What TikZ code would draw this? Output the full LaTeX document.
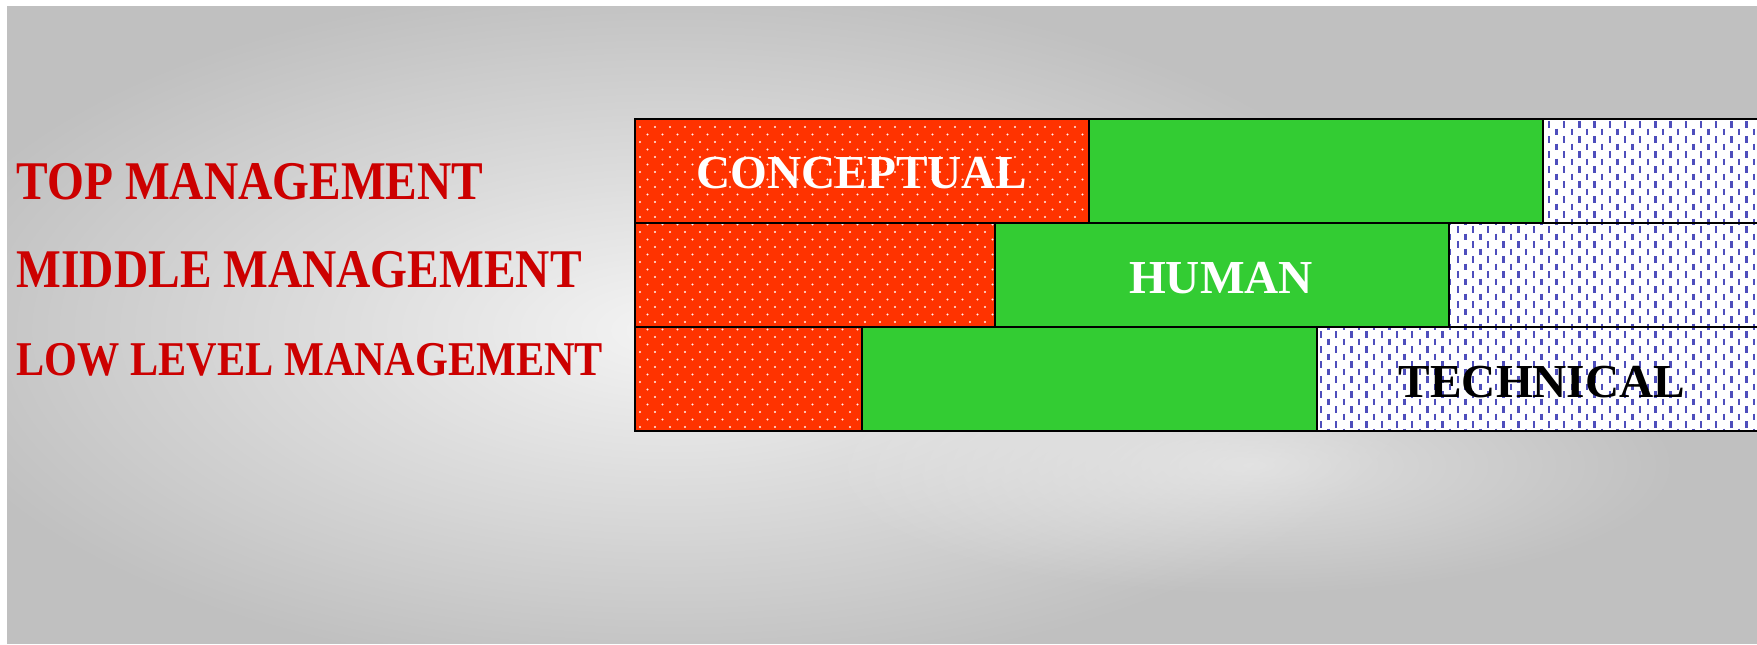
\documentclass[tikz,border=0pt]{standalone}
\usepackage{fontspec}
\usetikzlibrary{fadings}
\setmainfont{Liberation Serif}
\newfontfamily\narrowserif[FakeStretch=0.87]{Liberation Serif}
\definecolor{bggray}{HTML}{C0C0C0}
\definecolor{bglight}{HTML}{F4F4F4}
\definecolor{levelred}{HTML}{CC0000}
\definecolor{conceptred}{HTML}{FF3300}
\definecolor{humangreen}{HTML}{33CC33}
\definecolor{techblue}{HTML}{4E4EBC}
\tikzfading[name=glowfade, inner color=transparent!0, outer color=transparent!100]

\begin{document}
\begin{tikzpicture}[x=0.01cm, y=-0.01cm,
    level/.style={font=\narrowserif\bfseries\fontsize{15.5}{18}\selectfont, text=levelred, anchor=base west, inner sep=0pt},
    skill/.style={font=\bfseries\fontsize{13.45}{15}\selectfont, anchor=base, inner sep=0pt},
    concept/.style={fill=conceptred},
    human/.style={fill=humangreen},
    tech/.style={fill=white},
    conceptdot/.style={fill=white!92!conceptred},
    techdash/.style={draw=techblue, line width=0.025cm},
    boxline/.style={draw=black, line width=0.022cm},
    glow/.style={fill=bglight, path fading=glowfade},
]
\clip (0,0) rectangle (1757,644);

% Background with a soft glow
\fill[white] (0,0) rectangle (1757,644);
\fill[bggray] (7,6) rectangle (1757,644);
\begin{scope}
\clip (7,6) rectangle (1757,644);
\fill[glow] (670,330) ellipse [x radius=770, y radius=350];
\fill[glow, fill opacity=0.6] (1250,465) ellipse [x radius=430, y radius=130];
\end{scope}

% --- Skill bars: one row per management level ---
% top
\fill[concept] (635,119) rectangle (1089,223);
\fill[human] (1089,119) rectangle (1543,223);
\fill[tech] (1543,119) rectangle (1770,223);
% middle
\fill[concept] (635,223) rectangle (995,327);
\fill[human] (995,223) rectangle (1449,327);
\fill[tech] (1449,223) rectangle (1770,327);
% low level
\fill[concept] (635,327) rectangle (862,431);
\fill[human] (862,327) rectangle (1317,431);
\fill[tech] (1317,327) rectangle (1770,431);

% Dotted texture on the conceptual part
\begin{scope}
\clip (635,119) rectangle (1089,223) (635,223) rectangle (995,327) (635,327) rectangle (862,431);
\foreach \j in {0,...,41}
  \foreach \i in {0,...,30}
    \fill[conceptdot] ({640+15*\i+7.5*mod(\j,2)},{127+7.5*\j}) circle [radius=1.1];
\end{scope}

% Dashed texture on the technical part
\begin{scope}
\clip (1543,119) rectangle (1770,223) (1449,223) rectangle (1770,327) (1317,327) rectangle (1770,431);
\foreach \i in {0,...,59}
  \foreach \j in {0,...,21}
    \draw[techdash] ({1321+7.6*\i},{121+15*\j+7.5*mod(\i,2)}) -- ++(0,6.5);
\end{scope}

% Outlines
\foreach \y/\a/\b in {119/1089/1543, 223/995/1449, 327/862/1317} {
  \draw[boxline] (635,\y) rectangle (\a,\y+104);
  \draw[boxline] (\a,\y) rectangle (\b,\y+104);
  \draw[boxline] (\b,\y) rectangle (1770,\y+104);
}

% Level labels
\node[level] (top) at (16,199) {TOP MANAGEMENT};
\node[level] (middle) at (16,287) {MIDDLE MANAGEMENT};
\node[level, font=\narrowserif\bfseries\fontsize{13.8}{16}\selectfont] (low) at (16,375) {LOW LEVEL MANAGEMENT};

% Skill names
\node[skill, text=white] (conceptual) at (862,188) {CONCEPTUAL};
\node[skill, text=white] (humanskill) at (1221,293) {HUMAN};
\node[skill, text=black] (technical) at (1542,397) {TECHNICAL};

\end{tikzpicture}
\end{document}
